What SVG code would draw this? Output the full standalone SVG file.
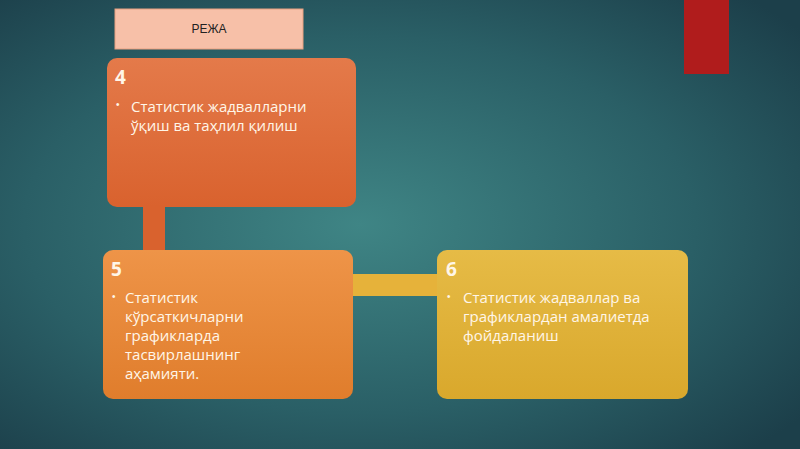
<svg xmlns="http://www.w3.org/2000/svg" width="800" height="449" viewBox="0 0 800 449">
<defs>
<radialGradient id="bg" cx="0.45" cy="0.5" r="0.7">
<stop offset="0" stop-color="#3f8585"/><stop offset="0.6" stop-color="#2a5f66"/><stop offset="1" stop-color="#1c3f4a"/>
</radialGradient>
<linearGradient id="g4" x1="0" y1="0" x2="0" y2="1"><stop offset="0" stop-color="#e47a4a"/><stop offset="1" stop-color="#d9622e"/></linearGradient>
<linearGradient id="g5" x1="0" y1="0" x2="0" y2="1"><stop offset="0" stop-color="#ee9448"/><stop offset="1" stop-color="#e07d2c"/></linearGradient>
<linearGradient id="g6" x1="0" y1="0" x2="0" y2="1"><stop offset="0" stop-color="#e6bb46"/><stop offset="1" stop-color="#d9a82c"/></linearGradient>
</defs>
<style>
.t{font-family:"Open Sans","DejaVu Sans",sans-serif;font-size:15px;fill:#fff6e8}
.n{font-family:"Open Sans","DejaVu Sans",sans-serif;font-size:19px;font-weight:bold;fill:#fff6e8}
.b{font-family:"Liberation Sans",sans-serif;font-size:10px;fill:#fff6e8}
</style>
<rect width="800" height="449" fill="url(#bg)"/>
<rect x="684" y="0" width="45" height="74" fill="#b01c1c"/>
<g id="connectors">
<rect x="143" y="204" width="22" height="50" fill="#d9622e"/>
<rect x="352" y="274" width="88" height="22" fill="#e6b23a"/>
</g>
<g id="title">
<rect x="115" y="9" width="188" height="40" fill="#f7c0a8" stroke="#e8a080"/>
<text x="209" y="33" text-anchor="middle" font-family="Liberation Sans,sans-serif" font-size="12" fill="#222">РЕЖА</text>
</g>
<g id="node4">
<rect x="107" y="58" width="249" height="149" rx="10" fill="url(#g4)"/>
<text class="n" x="115" y="84">4</text>
<text class="b" x="116" y="108">•</text>
<text class="t" x="131" y="112">Статистик жадвалларни</text>
<text class="t" x="131" y="131">ўқиш ва таҳлил қилиш</text>
</g>
<g id="node5">
<rect x="103" y="250" width="250" height="149" rx="10" fill="url(#g5)"/>
<text class="n" x="111" y="276">5</text>
<text class="b" x="112" y="300">•</text>
<text class="t" x="125" y="303">Статистик</text>
<text class="t" x="125" y="322">кўрсаткичларни</text>
<text class="t" x="125" y="341">графикларда</text>
<text class="t" x="125" y="360">тасвирлашнинг</text>
<text class="t" x="125" y="379">аҳамияти.</text>
</g>
<g id="node6">
<rect x="437" y="250" width="251" height="149" rx="10" fill="url(#g6)"/>
<text class="n" x="446" y="276">6</text>
<text class="b" x="447" y="300">•</text>
<text class="t" x="463" y="303">Статистик жадваллар ва</text>
<text class="t" x="463" y="322">графиклардан амалиетда</text>
<text class="t" x="463" y="341">фойдаланиш</text>
</g>
</svg>
